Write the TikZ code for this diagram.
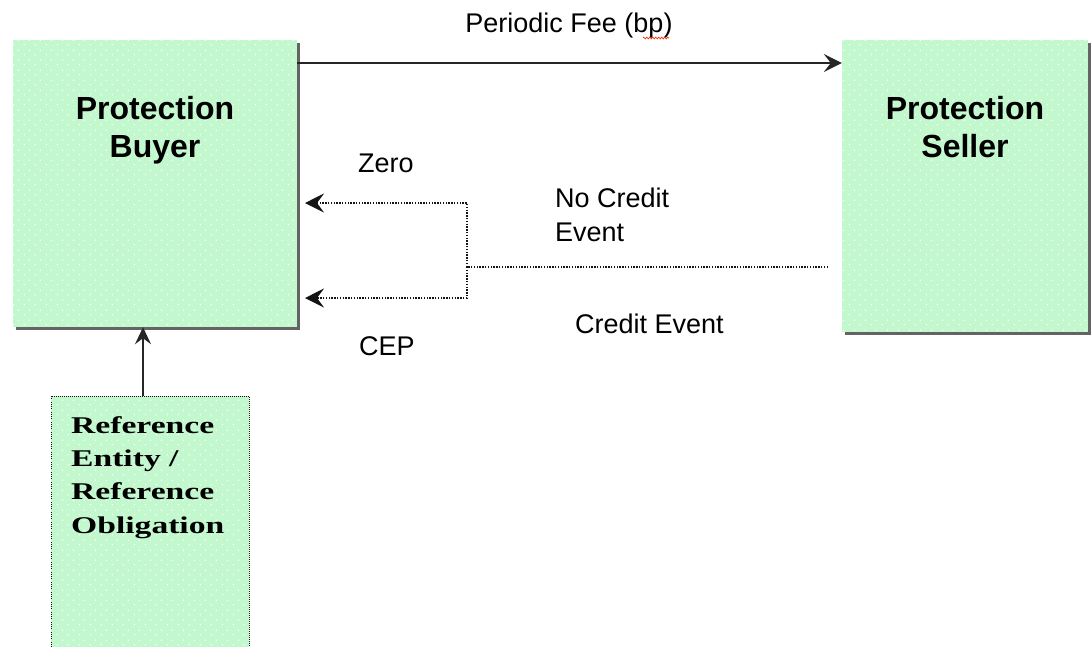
\documentclass[tikz,border=0pt]{standalone}
\usepackage{fontspec}
\usetikzlibrary{arrows.meta,shadows,patterns.meta,decorations.pathmorphing}
\newfontfamily\sansfont{Liberation Sans}
\newfontfamily\reffont{Liberation Serif}[FakeStretch=1.4]

\definecolor{boxgreen}{RGB}{195,248,207}
\definecolor{shadowgray}{RGB}{100,100,100}
\definecolor{dotgray}{RGB}{20,20,20}

% sparse white speckles laid over the green fill
\tikzdeclarepattern{
  name=speckle,
  type=uncolored,
  bottom left={(0pt,0pt)},
  top right={(11pt,10pt)},
  tile size={(11pt,10pt)},
  code={
    \pgfpathcircle{\pgfqpoint{2.5pt}{2.5pt}}{0.8pt}
    \pgfpathcircle{\pgfqpoint{8pt}{7.5pt}}{0.8pt}
    \pgfusepath{fill}
  }
}

\tikzset{
  party/.style={rectangle, inner sep=0pt, fill=boxgreen,
    postaction={pattern=speckle, pattern color=white},
    drop shadow={shadow xshift=3pt, shadow yshift=-3pt, fill=shadowgray, opacity=1}},
  refbox/.style={rectangle, inner sep=0pt, fill=boxgreen,
    postaction={pattern=speckle, pattern color=white},
    draw=dotgray, line width=1pt, dash pattern=on 1pt off 1pt},
  partytext/.style={inner sep=0pt, align=center,
    font=\sansfont\bfseries\fontsize{32}{38}\selectfont},
  reftext/.style={inner sep=0pt, align=left,
    font=\reffont\bfseries\fontsize{24}{33.3}\selectfont},
  flowtext/.style={inner sep=0pt, align=left,
    font=\sansfont\fontsize{27}{34}\selectfont},
  feearrow/.style={draw=black!85, line width=1.6pt,
    -{Stealth[length=18pt,width=18pt,inset=7pt]}},
  riseline/.style={draw=black!85, line width=1.6pt,
    -{Stealth[length=17pt,width=16pt,inset=6pt]}},
  dotline/.style={draw=dotgray, line width=1.7pt, dash pattern=on 1.4pt off 1.4pt},
  dotarrow/.style={dotline, -{Stealth[length=19pt,width=19pt,inset=7pt]}},
}

\begin{document}
\begin{tikzpicture}[x=1pt,y=-1pt]
\useasboundingbox (0,0) rectangle (1091,646);
\clip (0,0) rectangle (1091,646);

% parties
\node[party, minimum width=284pt, minimum height=287pt] (buyer) at (155,183.5) {};
\node[party, minimum width=246pt, minimum height=292pt] (seller) at (965,186) {};
\node[partytext] (buyertxt) at (155,130) {Protection\\Buyer};
\node[partytext] (sellertxt) at (965,126.6) {Protection\\Seller};

% reference entity box, running off the bottom edge
\node[refbox, minimum width=198pt, minimum height=270pt] (ref) at (150,531) {};
\node[reftext, anchor=west] (reftxt) at (71,477.4)
  {Reference\\Entity /\\Reference\\Obligation};

% periodic fee
\draw[feearrow] (buyer.east |- {(0,63)}) -- (seller.west |- {(0,63)});
\node[flowtext, anchor=base] (feetxt) at (569,32) {Periodic Fee (bp)};
\draw[red!70!orange, line width=0.6pt, decorate,
  decoration={zigzag, segment length=3pt, amplitude=1pt}]
  (643,38) -- (669,38);

% reference entity feeds the buyer
\draw[riseline] (ref.north -| {(143,0)}) -- (buyer.south -| {(143,0)});

% contingent leg
\coordinate (split) at (467,267);
\coordinate (legend) at (828,267);
\coordinate (zerotip) at (305,203);
\coordinate (ceptip) at (305,298);
\draw[dotline] (legend) -- (split);
\draw[dotarrow] (split) |- (zerotip);
\draw[dotarrow] (split) |- (ceptip);

\node[flowtext, anchor=base west] (zerotxt) at (358,172) {Zero};
\node[flowtext, anchor=base west] (ceptxt) at (359,355) {CEP};
\node[flowtext, anchor=base west] (nocetxt) at (555,241) {No Credit\\Event};
\node[flowtext, anchor=base west] (cetxt) at (575,333) {Credit Event};
\end{tikzpicture}
\end{document}
